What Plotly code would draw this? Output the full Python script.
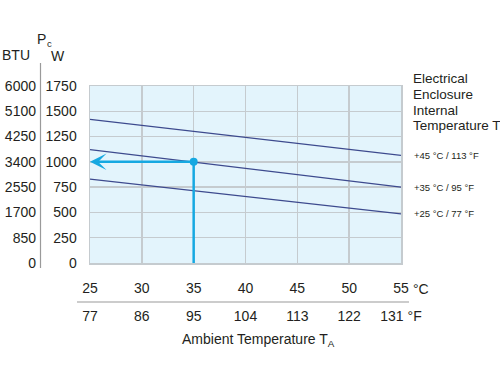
import plotly.graph_objects as go

# ---------------- data ----------------
temp_c = [25, 30, 35, 40, 45, 50, 55]
temp_f = [77, 86, 95, 104, 113, 122, 131]
watts = [0, 250, 500, 750, 1000, 1250, 1500, 1750]
btu = [0, 850, 1700, 2550, 3400, 4250, 5100, 6000]

line_x = [25, 55]
line_45 = [1420, 1065]
line_35 = [1120, 750]
line_25 = [830, 485]
series_labels = ["+45 °C / 113 °F", "+35 °C / 95 °F", "+25 °C / 77 °F"]

example_x = 35
example_y = 1000

# ---------------- style ----------------
FONT = "Liberation Sans, Arial, Helvetica, sans-serif"
TXT = "#231f20"
BG = "#e3f4fc"
GRID = "#c5cbcf"
LINE = "#3d4a8e"
ACC = "#16a8e1"

W, H = 500, 382
L, T = 90, 86
R = W - 401
B = H - 263
PW, PH = W - L - R, H - T - B


def px(x):
    return (x - L) / PW


def py(y):
    return (H - B - y) / PH


fig = go.Figure()

for ys in (line_45, line_35, line_25):
    fig.add_trace(go.Scatter(x=line_x, y=ys, mode="lines",
                             line=dict(color=LINE, width=1.3),
                             showlegend=False, hoverinfo="skip"))

# vertical reading line
fig.add_trace(go.Scatter(x=[example_x, example_x], y=[example_y, 0], mode="lines",
                         line=dict(color=ACC, width=2.5), showlegend=False,
                         hoverinfo="skip", cliponaxis=False))
# helper trace for secondary axes
fig.add_trace(go.Scatter(x=line_x, y=line_45, xaxis="x2", yaxis="y2", mode="lines",
                         line=dict(color="rgba(0,0,0,0)", width=0),
                         showlegend=False, hoverinfo="skip"))
# point
fig.add_trace(go.Scatter(x=[example_x], y=[example_y], mode="markers",
                         marker=dict(color=ACC, size=8), showlegend=False,
                         hoverinfo="skip"))

annotations = []
# arrow
annotations.append(dict(x=temp_c[0], y=example_y, ax=example_x, ay=example_y,
                        xref="x", yref="y", axref="x", ayref="y", text="",
                        showarrow=True, arrowhead=3, arrowsize=1.1,
                        arrowwidth=2.5, arrowcolor=ACC))

# series labels on the right
for ys, lab in zip((line_45, line_35, line_25), series_labels):
    annotations.append(dict(x=px(412), y=ys[-1], xref="paper", yref="y",
                            text=lab, showarrow=False, xanchor="left",
                            yanchor="middle",
                            font=dict(family=FONT, size=9.5, color=TXT)))

# right title
for txt, yy in zip(["Electrical", "Enclosure", "Internal", "Temperature T<sub>i</sub>"],
                   [78, 94, 110, 126]):
    annotations.append(dict(x=px(411), y=py(yy), xref="paper", yref="paper",
                            text=txt, showarrow=False, xanchor="left",
                            yanchor="middle",
                            font=dict(family=FONT, size=13.5, color=TXT)))

# axis header texts
hdr = [
    dict(x=px(16), y=py(55), text="BTU", font=dict(family=FONT, size=14, color=TXT)),
    dict(x=px(41.5), y=py(39), text="P", font=dict(family=FONT, size=14, color=TXT)),
    dict(x=px(49), y=py(44), text="c", font=dict(family=FONT, size=9.5, color=TXT)),
    dict(x=px(58), y=py(56), text="W", font=dict(family=FONT, size=14, color=TXT)),
    dict(x=px(411), y=py(289), text="°C", xanchor="left", font=dict(family=FONT, size=14, color=TXT)),
    dict(x=px(180), y=py(340), text="Ambient Temperature T<sub>A</sub>", xanchor="left",
         font=dict(family=FONT, size=14, color=TXT)),
]
for a in hdr:
    a.setdefault("xref", "paper")
    a.setdefault("yref", "paper")
    a.setdefault("showarrow", False)
    a.setdefault("xanchor", "center")
    a.setdefault("yanchor", "middle")
annotations += hdr

shapes = [
    dict(type="line", xref="paper", yref="paper", x0=px(77), x1=px(409),
         y0=py(302), y1=py(302), line=dict(color="#9a9a9a", width=1.2)),
    dict(type="line", xref="paper", yref="paper", x0=px(40.5), x1=px(40.5),
         y0=py(63), y1=py(268), line=dict(color="#9a9a9a", width=1.2)),
]

tickfont = dict(family=FONT, size=14, color=TXT)
f_text = [str(v) for v in temp_f]
f_text[-1] = f_text[-1] + " °F"

fig.update_layout(
    width=W, height=H,
    margin=dict(l=L, r=R, t=T, b=B, pad=0, autoexpand=False),
    paper_bgcolor="white", plot_bgcolor=BG,
    showlegend=False,
    xaxis=dict(range=[25, 55], tickvals=temp_c, ticktext=[str(v) for v in temp_c],
               showgrid=True, gridcolor=GRID, gridwidth=1.5, zeroline=False,
               showline=True, linecolor=GRID, linewidth=1.5, mirror=True,
               ticks="", ticklabelstandoff=12, tickfont=tickfont, automargin=False),
    xaxis2=dict(range=[25, 55], overlaying="x", anchor="y2", side="bottom",
                tickvals=temp_c, ticktext=f_text,
                showgrid=False, zeroline=False, showline=False, ticks="",
                ticklabelstandoff=43, tickfont=tickfont, automargin=False),
    yaxis=dict(range=[0, 1750], tickvals=watts, ticktext=[str(v) for v in watts],
               showgrid=True, gridcolor=GRID, gridwidth=1.5, zeroline=False,
               showline=True, linecolor=GRID, linewidth=1.5, mirror=True,
               ticks="", ticklabelstandoff=9, tickfont=tickfont, automargin=False),
    yaxis2=dict(range=[0, 1750], overlaying="y", anchor="x2", side="left",
                tickvals=watts, ticktext=[str(v) for v in btu],
                showgrid=False, zeroline=False, showline=False, ticks="",
                ticklabelstandoff=53, tickfont=tickfont, automargin=False),
    annotations=annotations,
    shapes=shapes,
)

fig.write_html("out.html", config={"displayModeBar": False, "staticPlot": True},
               post_script="document.body.style.margin='0';document.body.style.padding='0';")
